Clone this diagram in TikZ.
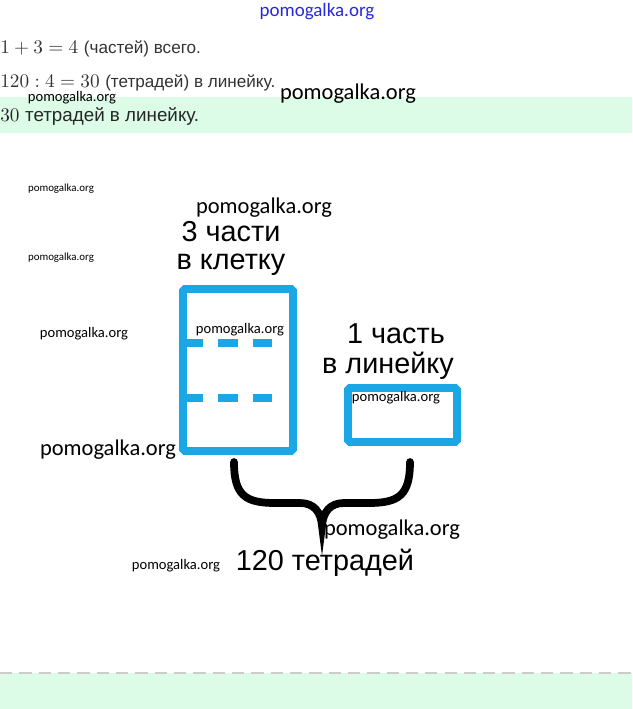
\documentclass[tikz,border=0pt]{standalone}
\usepackage{fontspec}
\setmainfont{Liberation Sans}
\newfontfamily\wmfont{Carlito}
\usetikzlibrary{calc}

\definecolor{boxblue}{RGB}{27,166,230}
\definecolor{bandgreen}{RGB}{220,252,232}
\definecolor{textgray}{RGB}{51,51,51}
\definecolor{wmblue}{RGB}{40,40,220}

\tikzset{
  wmbig/.style={font=\wmfont\fontsize{12.8}{14}\selectfont, inner sep=0pt},
  wmsmall/.style={font=\wmfont\fontsize{8.3}{9}\selectfont, inner sep=0pt},
  wmtiny/.style={font=\wmfont\fontsize{6.2}{7}\selectfont, inner sep=0pt},
  caption/.style={font=\fontsize{16.4}{19}\selectfont, inner sep=0pt},
  partbox/.style={draw=boxblue, line width=4.4pt, rounded corners=1pt},
  divider/.style={draw=boxblue, line width=4pt, dash pattern=on 11.3pt off 8.5pt},
  mathline/.style={anchor=west, inner sep=0pt, text=textgray, font=\fontsize{11.3}{13}\selectfont}
}

\begin{document}
\begin{tikzpicture}[x=0.02cm, y=-0.02cm]

% Frame
\useasboundingbox (0,0) rectangle (632,709);

% Green bands
\fill[bandgreen] (0,97) rectangle (632,133);
\fill[bandgreen] (0,673) rectangle (632,709);
\draw[black!20, line width=0.8pt, dash pattern=on 7pt off 4pt] (0,673) -- (632,673);

% Solution lines
\node[mathline] (step1) at (0,49) {$1+3=4$ {\fontsize{9.75}{11}\selectfont (частей) всего.}};
\node[mathline] (step2) at (0,83) {$120:4=30$ {\fontsize{9.75}{11}\selectfont (тетрадей) в линейку.}};
\node[mathline, text=black!85] (answer) at (0,116) {$30$ {\fontsize{10.7}{12}\selectfont тетрадей в линейку.}};

% Boxes
\coordinate (L1) at (183,289);
\coordinate (L2) at (293,451);
\coordinate (R1) at (348,388);
\coordinate (R2) at (457,442);
\draw[partbox] (L1) rectangle (L2);
\draw[partbox] (R1) rectangle (R2);

% Dashed splits of the left box
\draw[divider] (183,343) -- (275,343);
\draw[divider] (183,398) -- (275,398);

% Captions
\node[caption] (left top) at (231,232) {3 части};
\node[caption] (left bottom) at (231,265) {в клетку};
\node[caption] (right top) at (396,334) {1 часть};
\node[caption] (right bottom) at (388,366) {в линейку};
\node[caption] (total) at (325,563) {120 тетрадей};

% Brace under both boxes
\coordinate (BL) at (234,462);
\coordinate (BR) at (410,462);
\coordinate (BT) at (322,526);
\draw[line width=4.4pt, line cap=round]
  (BL) .. controls (234,495) and (245,503) .. (275,503) -- (300,503)
  .. controls (314,503) and (321,512) .. (BT)
  .. controls (323,512) and (330,503) .. (344,503) -- (369,503)
  .. controls (399,503) and (410,495) .. (BR);

% Watermarks
\node[wmbig, font=\wmfont\fontsize{10.8}{12}\selectfont, text=wmblue] (wm0) at (317,12) {pomogalka.org};
\node[wmsmall] (wm1) at (72,98) {pomogalka.org};
\node[wmbig] (wm2) at (348,94) {pomogalka.org};
\node[wmtiny] (wm3) at (61,189) {pomogalka.org};
\node[wmbig] (wm4) at (264,208) {pomogalka.org};
\node[wmtiny] (wm5) at (61,258) {pomogalka.org};
\node[wmsmall] (wm6) at (84,334) {pomogalka.org};
\node[wmsmall] (wm7) at (240,330) {pomogalka.org};
\node[wmsmall] (wm8) at (396,398) {pomogalka.org};
\node[wmbig] (wm9) at (108,450) {pomogalka.org};
\node[wmbig] (wm10) at (392,530) {pomogalka.org};
\node[wmsmall] (wm11) at (176,566) {pomogalka.org};

\end{tikzpicture}
\end{document}
